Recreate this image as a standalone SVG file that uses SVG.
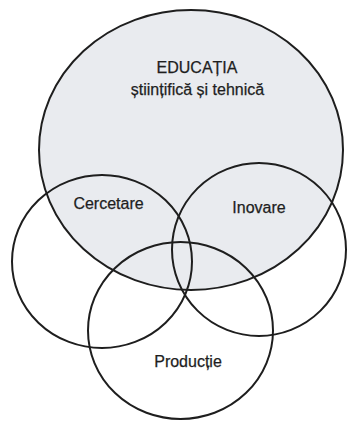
<svg xmlns="http://www.w3.org/2000/svg" width="347" height="421" viewBox="0 0 347 421">
  <style>
    .ring { fill: none; stroke: #1e1e1e; stroke-width: 2; }
    .label { font-family: "Liberation Sans", Arial, sans-serif; font-size: 16px; fill: #1e1e1e; stroke: #1e1e1e; stroke-width: 0.25; text-anchor: middle; }
  </style>
  <rect width="347" height="421" fill="#ffffff"/>

  <!-- main set: shaded field with its outline -->
  <g id="educatia">
    <ellipse cx="191" cy="150" rx="152" ry="140" fill="#e9ebef" stroke="#1e1e1e" stroke-width="2"/>
    <text class="label" x="197" y="73">EDUCAȚIA</text>
    <text class="label" x="197.5" y="95">științifică și tehnică</text>
  </g>

  <!-- overlapping unfilled sets -->
  <g id="cercetare">
    <ellipse class="ring" cx="102" cy="261.5" rx="90" ry="86.5"/>
    <text class="label" x="108.5" y="209">Cercetare</text>
  </g>

  <g id="inovare">
    <ellipse class="ring" cx="259" cy="249.5" rx="87" ry="86.5" stroke="#444"/>
    <text class="label" x="259" y="213">Inovare</text>
  </g>

  <g id="productie">
    <ellipse class="ring" cx="180.5" cy="330.5" rx="92.5" ry="88.5"/>
    <text class="label" x="188" y="367">Producție</text>
  </g>
</svg>
